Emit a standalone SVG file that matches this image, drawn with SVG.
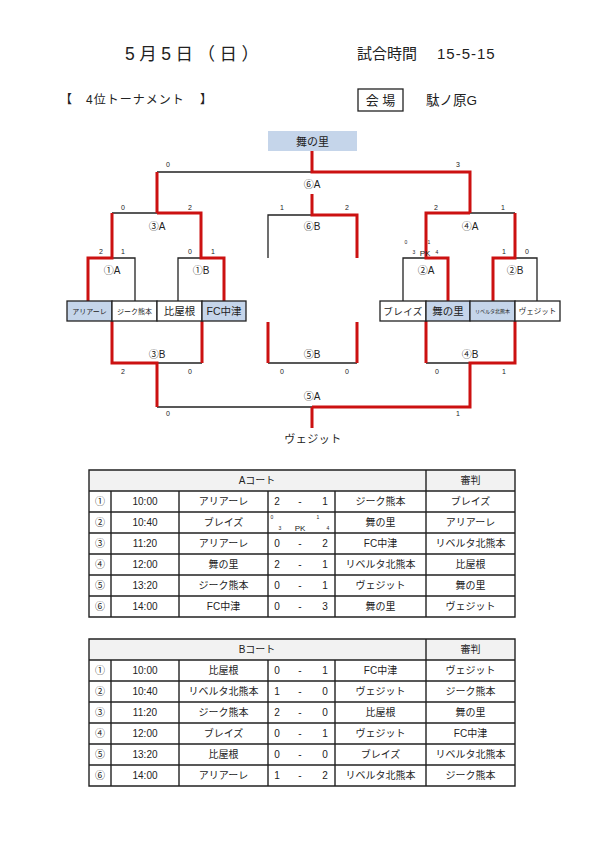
<svg xmlns="http://www.w3.org/2000/svg" width="595" height="841" viewBox="0 0 595 841">
<style>
text{font-family:"Liberation Sans","Noto Sans CJK JP",sans-serif;fill:#222}
.c{text-anchor:middle}
.k{fill:none;stroke:#222;stroke-width:1.3}
.r{fill:none;stroke:#cc1111;stroke-width:3}
.bx{stroke:#222;stroke-width:1.3}
.bl{fill:#c5d5ea}
.wh{fill:#fff}
.s{font-size:7px}
.l{font-size:10px}
.g{fill:none;stroke:#222;stroke-width:1.4}
.hd{fill:#f2f2f2}
.tt{font-size:10px;text-anchor:middle}
</style>
<rect width="595" height="841" fill="#fff"/>
<g id="header">
<text x="125" y="60" font-size="17.5" letter-spacing="4.5">5月5日（日）</text>
<text x="357" y="59" font-size="15">試合時間</text>
<text x="437" y="59" font-size="15" letter-spacing="1">15-5-15</text>
<text x="60" y="104" font-size="12">【</text>
<text x="86" y="104" font-size="12" letter-spacing="1">4位トーナメント</text>
<text x="200" y="104" font-size="12">】</text>
<rect x="358" y="89" width="45" height="22" fill="none" stroke="#222" stroke-width="1.3"/>
<text x="380.5" y="105" font-size="13" class="c">会 場</text>
<text x="426" y="105" font-size="13.5">駄ノ原G</text>
</g>
<g id="connectors">
<path class="k" d="M157,172H312M112,213H157M112,258H135V301M201,258H178V301M312,215H268V258M470,213H515M426,258H403V301M515,258H537V301M157,363H202M157,407H312M426,363H470M268,363H357"/>
<path class="r" d="M312,151V172H470V213M157,172V213M157,213H201V258H224V301M112,213V258H88V301M312,194V215H357V258M470,213H426V258H448V301M515,213V258H493V301M112,321V363H157V407M202,321V363M312,407H470V363H515V321M426,321V363M312,407V428M268,322V363M357,322V363"/>
</g>
<g id="winner">
<rect x="268" y="131" width="89" height="20" class="bl"/>
<text x="312.5" y="145.5" font-size="11" class="c">舞の里</text>
</g>
<g id="team-ariare"><rect x="67" y="301" width="45" height="20" class="bx bl"/><text x="89.5" y="314" class="c" font-size="7">アリアーレ</text></g>
<g id="team-zieg"><rect x="112" y="301" width="45" height="20" class="bx wh"/><text x="134.5" y="314" class="c" font-size="7">ジーク熊本</text></g>
<g id="team-hiyagon"><rect x="157" y="301" width="45" height="20" class="bx wh"/><text x="179.5" y="315" class="c" font-size="10.5">比屋根</text></g>
<g id="team-fcnakatsu"><rect x="202" y="301" width="44" height="20" class="bx bl"/><text x="224" y="315" class="c" font-size="10.5">FC中津</text></g>
<g id="team-blaze"><rect x="380" y="301" width="46" height="20" class="bx wh"/><text x="403" y="315" class="c" font-size="9.5" letter-spacing="0.5">ブレイズ</text></g>
<g id="team-mainosato"><rect x="426" y="301" width="44" height="20" class="bx bl"/><text x="448" y="315" class="c" font-size="10.5">舞の里</text></g>
<g id="team-liberta"><rect x="470" y="301" width="45" height="20" class="bx bl"/><text x="492.5" y="313" class="c" font-size="5">リベルタ北熊本</text></g>
<g id="team-vesit"><rect x="515" y="301" width="45" height="20" class="bx wh"/><text x="537.5" y="314" class="c" font-size="7.5">ヴェジット</text></g>
<g id="final-bottom"><text x="313" y="443" class="c" font-size="11" letter-spacing="0.5">ヴェジット</text></g>
<g id="match-labels" class="l">
<text x="312" y="188" class="c">⑥A</text>
<text x="157" y="230" class="c">③A</text>
<text x="312" y="230" class="c">⑥B</text>
<text x="470" y="230" class="c">④A</text>
<text x="112" y="274" class="c">①A</text>
<text x="201" y="274" class="c">①B</text>
<text x="426" y="274" class="c">②A</text>
<text x="515" y="274" class="c">②B</text>
<text x="157" y="358" class="c">③B</text>
<text x="312" y="358" class="c">⑤B</text>
<text x="470" y="358" class="c">④B</text>
<text x="312" y="400" class="c">⑤A</text>
</g>
<g id="scores" class="s">
<text x="168" y="167" class="c">0</text><text x="458" y="167" class="c">3</text>
<text x="123" y="210" class="c">0</text><text x="190" y="210" class="c">2</text>
<text x="282" y="210" class="c">1</text><text x="347" y="210" class="c">2</text>
<text x="436" y="210" class="c">2</text><text x="503" y="210" class="c">1</text>
<text x="101" y="254" class="c">2</text><text x="123" y="254" class="c">1</text>
<text x="190" y="254" class="c">0</text><text x="213" y="254" class="c">1</text>
<text x="406" y="244" class="c" font-size="5">0</text><text x="429" y="244" class="c" font-size="5">1</text>
<text x="414" y="254" class="c" font-size="5">3</text><text x="425" y="256" class="c" font-size="8">PK</text><text x="437" y="254" class="c" font-size="5">4</text>
<text x="504" y="254" class="c">1</text><text x="527" y="254" class="c">0</text>
<text x="123" y="374" class="c">2</text><text x="190" y="374" class="c">0</text>
<text x="282" y="374" class="c">0</text><text x="347" y="374" class="c">0</text>
<text x="437" y="374" class="c">0</text><text x="504" y="374" class="c">1</text>
<text x="168" y="416" class="c">0</text><text x="458" y="416" class="c">1</text>
</g>
<g id="table-a">
<rect x="89" y="470" width="426" height="21" class="hd"/>
<path class="g" d="M89,470H515V617H89ZM89,491H515M89,512H515M89,533H515M89,554H515M89,575H515M89,596H515M426,470V617M111,491V617M179,491V617M268,491V617M335,491V617"/>
<text x="257" y="484" class="tt">Aコート</text><text x="470.5" y="484" class="tt">審判</text>
<g class="tt">
<text x="100" y="505">①</text><text x="145" y="505">10:00</text><text x="223.5" y="505">アリアーレ</text><text x="277" y="505">2</text><text x="300" y="505">-</text><text x="325" y="505">1</text><text x="380.5" y="505">ジーク熊本</text><text x="470.5" y="505">ブレイズ</text>
<text x="100" y="526">②</text><text x="145" y="526">10:40</text><text x="223.5" y="526">ブレイズ</text><text x="380.5" y="526">舞の里</text><text x="470.5" y="526">アリアーレ</text>
<text x="100" y="547">③</text><text x="145" y="547">11:20</text><text x="223.5" y="547">アリアーレ</text><text x="277" y="547">0</text><text x="300" y="547">-</text><text x="325" y="547">2</text><text x="380.5" y="547">FC中津</text><text x="470.5" y="547">リベルタ北熊本</text>
<text x="100" y="568">④</text><text x="145" y="568">12:00</text><text x="223.5" y="568">舞の里</text><text x="277" y="568">2</text><text x="300" y="568">-</text><text x="325" y="568">1</text><text x="380.5" y="568">リベルタ北熊本</text><text x="470.5" y="568">比屋根</text>
<text x="100" y="589">⑤</text><text x="145" y="589">13:20</text><text x="223.5" y="589">ジーク熊本</text><text x="277" y="589">0</text><text x="300" y="589">-</text><text x="325" y="589">1</text><text x="380.5" y="589">ヴェジット</text><text x="470.5" y="589">舞の里</text>
<text x="100" y="610">⑥</text><text x="145" y="610">14:00</text><text x="223.5" y="610">FC中津</text><text x="277" y="610">0</text><text x="300" y="610">-</text><text x="325" y="610">3</text><text x="380.5" y="610">舞の里</text><text x="470.5" y="610">ヴェジット</text>
</g>
<text x="272" y="519" class="c" font-size="5">0</text><text x="280" y="530" class="c" font-size="5">3</text>
<text x="300" y="531" class="c" font-size="8">PK</text>
<text x="318" y="519" class="c" font-size="5">1</text><text x="328" y="530" class="c" font-size="5">4</text>
</g>
<g id="table-b">
<rect x="89" y="639" width="426" height="21" class="hd"/>
<path class="g" d="M89,639H515V786H89ZM89,660H515M89,681H515M89,702H515M89,723H515M89,744H515M89,765H515M426,639V786M111,660V786M179,660V786M268,660V786M335,660V786"/>
<text x="257" y="653" class="tt">Bコート</text><text x="470.5" y="653" class="tt">審判</text>
<g class="tt">
<text x="100" y="674">①</text><text x="145" y="674">10:00</text><text x="223.5" y="674">比屋根</text><text x="277" y="674">0</text><text x="300" y="674">-</text><text x="325" y="674">1</text><text x="380.5" y="674">FC中津</text><text x="470.5" y="674">ヴェジット</text>
<text x="100" y="695">②</text><text x="145" y="695">10:40</text><text x="223.5" y="695">リベルタ北熊本</text><text x="277" y="695">1</text><text x="300" y="695">-</text><text x="325" y="695">0</text><text x="380.5" y="695">ヴェジット</text><text x="470.5" y="695">ジーク熊本</text>
<text x="100" y="716">③</text><text x="145" y="716">11:20</text><text x="223.5" y="716">ジーク熊本</text><text x="277" y="716">2</text><text x="300" y="716">-</text><text x="325" y="716">0</text><text x="380.5" y="716">比屋根</text><text x="470.5" y="716">舞の里</text>
<text x="100" y="737">④</text><text x="145" y="737">12:00</text><text x="223.5" y="737">ブレイズ</text><text x="277" y="737">0</text><text x="300" y="737">-</text><text x="325" y="737">1</text><text x="380.5" y="737">ヴェジット</text><text x="470.5" y="737">FC中津</text>
<text x="100" y="758">⑤</text><text x="145" y="758">13:20</text><text x="223.5" y="758">比屋根</text><text x="277" y="758">0</text><text x="300" y="758">-</text><text x="325" y="758">0</text><text x="380.5" y="758">ブレイズ</text><text x="470.5" y="758">リベルタ北熊本</text>
<text x="100" y="779">⑥</text><text x="145" y="779">14:00</text><text x="223.5" y="779">アリアーレ</text><text x="277" y="779">1</text><text x="300" y="779">-</text><text x="325" y="779">2</text><text x="380.5" y="779">リベルタ北熊本</text><text x="470.5" y="779">ジーク熊本</text>
</g>
</g>
</svg>
